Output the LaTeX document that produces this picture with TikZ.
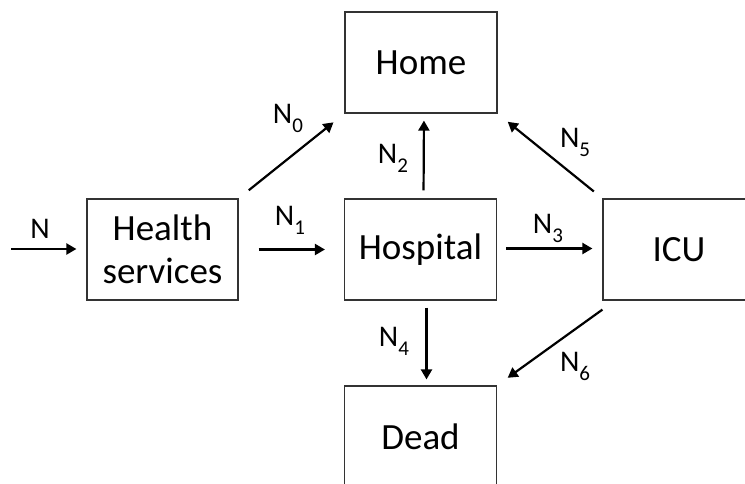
\documentclass[tikz,border=0pt]{standalone}
\usepackage{fontspec}
\setmainfont{Carlito}
\usetikzlibrary{arrows.meta}
\newcommand{\lbsub}[1]{\raisebox{-0.3em}{\fontsize{21}{21}\selectfont #1}}
\tikzset{
  boxnode/.style={draw=black!80, line width=1.2pt, rectangle, minimum width=152pt, minimum height=101pt, inner sep=0pt, font=\fontsize{37}{43}\selectfont, align=center},
  flow/.style={line width=2.2pt, -{Triangle[length=10pt,width=11pt]}},
  lbl/.style={font=\fontsize{30}{32}\selectfont, inner sep=0pt}
}
\begin{document}
\begin{tikzpicture}[x=1pt,y=-1pt]
\useasboundingbox (0,0) rectangle (745,483);
\clip (0,0) rectangle (745,483);
\node[boxnode] (home) at (421,62.5) {Home};
\node[boxnode, minimum width=151pt] (hs) at (162.5,249.5) {Health\\services};
\node[boxnode] (hosp) at (420.5,249.5) {Hospital};
\node[boxnode] (icu) at (679,249.5) {ICU};
\node[boxnode] (dead) at (420.5,436.5) {Dead};
\coordinate (in) at (11,249);
\draw[flow, shorten >=10pt] (in) -- (hs.west |- in);
\draw[flow, shorten <=20pt, shorten >=19pt] (hs.east) -- (hosp.west);
\draw[flow, shorten <=13pt, shorten >=14pt] (hs.north east) -- (home.south west);
\draw[flow, shorten <=8pt, shorten >=7pt] ([xshift=3pt]hosp.north) -- ([xshift=3pt]home.south);
\draw[flow, shorten <=9pt, shorten >=10pt] ([yshift=1pt]hosp.east) -- ([yshift=1pt]icu.west);
\draw[flow, shorten <=11pt, shorten >=13pt] (icu.north west) -- (home.south east);
\draw[flow, shorten <=7pt, shorten >=6pt] ([xshift=6pt]hosp.south) -- ([xshift=6pt]dead.north);
\draw[flow, shorten >=13pt] ([yshift=-9pt]icu.south west) -- (dead.north east);
\node[lbl] (lN) at (40,229) {N};
\node[lbl] (l0) at (288,118) {N\lbsub{0}};
\node[lbl] (l1) at (290,220) {N\lbsub{1}};
\node[lbl] (l2) at (393,158) {N\lbsub{2}};
\node[lbl] (l3) at (548,228) {N\lbsub{3}};
\node[lbl] (l4) at (394,341) {N\lbsub{4}};
\node[lbl] (l5) at (575,142) {N\lbsub{5}};
\node[lbl] (l6) at (575,366) {N\lbsub{6}};
\end{tikzpicture}
\end{document}
